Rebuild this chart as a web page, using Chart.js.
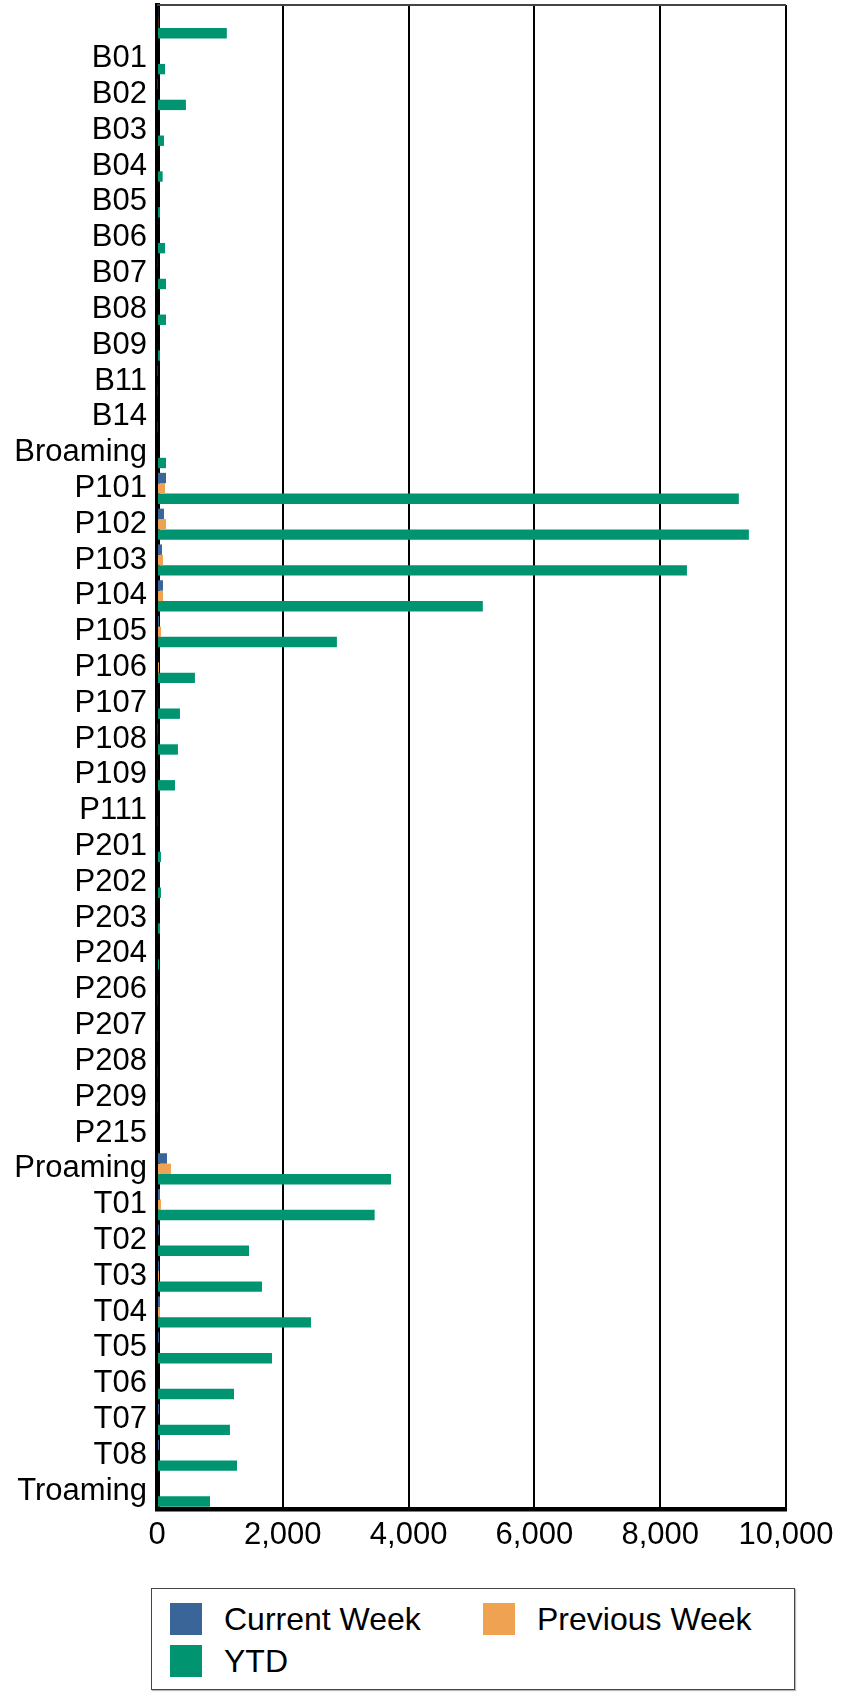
<!DOCTYPE html>
<html>
<head>
<meta charset="utf-8">
<script src="https://cdn.jsdelivr.net/npm/chart.js@4/dist/chart.umd.min.js"></script>
<style>
    body { margin: 0; background: #fff; font-family: "Liberation Sans", Arial, sans-serif; }
    #wrap { position: relative; width: 850px; height: 1694px; }
    #legend {
        position: absolute; left: 151px; top: 1588px; width: 642px; height: 100px;
        border: 1.5px solid #444; box-shadow: 1px 1px 1px #bbb;
    }
    .item { position: absolute; font-size: 32px; line-height: 32px; color: #000; }
    .item span { position: absolute; left: 0; top: 0; width: 32px; height: 32px; }
    .item b { font-weight: normal; position: absolute; left: 54px; top: 0; white-space: nowrap; }
</style>
</head>
<body>
<div id="wrap">
    <canvas id="chart" width="850" height="1580"></canvas>
    <div id="legend"></div>
</div>
<script>
// categories and values
const categories = ['', 'B01', 'B02', 'B03', 'B04', 'B05', 'B06', 'B07', 'B08', 'B09', 'B11', 'B14', 'Broaming',
    'P101', 'P102', 'P103', 'P104', 'P105', 'P106', 'P107', 'P108', 'P109', 'P111',
    'P201', 'P202', 'P203', 'P204', 'P206', 'P207', 'P208', 'P209', 'P215', 'Proaming',
    'T01', 'T02', 'T03', 'T04', 'T05', 'T06', 'T07', 'T08', 'Troaming'];

const currentWeek = [20, 0, 8, 0, 0, 0, 0, 12, 0, 0, 8, 0, 0,
    143, 111, 79, 95, 32, 0, 14, 8, 12, 0,
    0, 0, 0, 0, 0, 0, 0, 0, 0, 159,
    48, 32, 32, 48, 32, 16, 32, 32, 16];

const previousWeek = [20, 0, 0, 0, 0, 0, 16, 0, 0, 0, 0, 0, 0,
    127, 143, 95, 95, 63, 32, 14, 14, 16, 0,
    0, 0, 0, 0, 0, 0, 0, 0, 0, 222,
    63, 16, 32, 48, 16, 16, 16, 16, 16];

const ytd = [1110, 127, 460, 111, 90, 48, 127, 143, 143, 48, 12, 10, 143,
    9250, 9410, 8425, 5180, 2860, 603, 365, 333, 286, 12,
    63, 63, 48, 32, 12, 12, 12, 12, 0, 3720,
    3460, 1463, 1669, 2448, 1828, 1224, 1160, 1272, 843];

const xTicks = [0, 2000, 4000, 6000, 8000, 10000];

const seriesNames = ['Current Week', 'Previous Week', 'YTD'];
const seriesColors = ['#3a6598', '#efa352', '#009471'];

const font = { family: '"Liberation Sans", Arial, sans-serif', size: 31 };

// thin line along the top of the plot
const topBorder = {
    id: 'topBorder',
    afterDraw(chart) {
        const a = chart.chartArea;
        const ctx = chart.ctx;
        ctx.save();
        ctx.strokeStyle = '#444';
        ctx.lineWidth = 2;
        ctx.beginPath();
        ctx.moveTo(a.left, a.top);
        ctx.lineTo(a.right, a.top);
        ctx.stroke();
        ctx.restore();
    }
};

const ctx = document.getElementById('chart').getContext('2d');
new Chart(ctx, {
    type: 'bar',
    data: {
        labels: categories,
        datasets: [
            { label: seriesNames[0], data: currentWeek, backgroundColor: seriesColors[0] },
            { label: seriesNames[1], data: previousWeek, backgroundColor: seriesColors[1] },
            { label: seriesNames[2], data: ytd, backgroundColor: seriesColors[2] }
        ]
    },
    options: {
        indexAxis: 'y',
        responsive: false,
        animation: false,
        devicePixelRatio: 1,
        datasets: { bar: { barPercentage: 1, categoryPercentage: 0.87 } },
        layout: { padding: { top: 5, right: 64, left: 0, bottom: 0 } },
        plugins: { legend: { display: false }, tooltip: { enabled: false } },
        scales: {
            x: {
                min: 0,
                max: 10000,
                afterFit: s => { s.height = 71; },
                afterBuildTicks: s => { s.ticks = xTicks.map(v => ({ value: v })); },
                grid: { color: '#000', lineWidth: 2, drawTicks: false },
                border: { color: '#000', width: 4.5 },
                ticks: { color: '#000', font: font, padding: 8, maxRotation: 0 }
            },
            y: {
                afterFit: s => { s.width = 157; s.paddingTop = 0; s.paddingBottom = 0; },
                grid: { display: false, drawTicks: false },
                border: { color: '#000', width: 5 },
                ticks: { color: '#000', font: font, padding: 10, autoSkip: false }
            }
        }
    },
    plugins: [topBorder]
});

// legend box below the chart
const legend = document.getElementById('legend');
const spots = [[18, 14], [331, 14], [18, 56]];
seriesNames.forEach((name, i) => {
    const el = document.createElement('div');
    el.className = 'item';
    el.style.left = spots[i][0] + 'px';
    el.style.top = spots[i][1] + 'px';
    el.innerHTML = `<span style="background:${seriesColors[i]}"></span><b>${name}</b>`;
    legend.appendChild(el);
});
</script>
</body>
</html>
